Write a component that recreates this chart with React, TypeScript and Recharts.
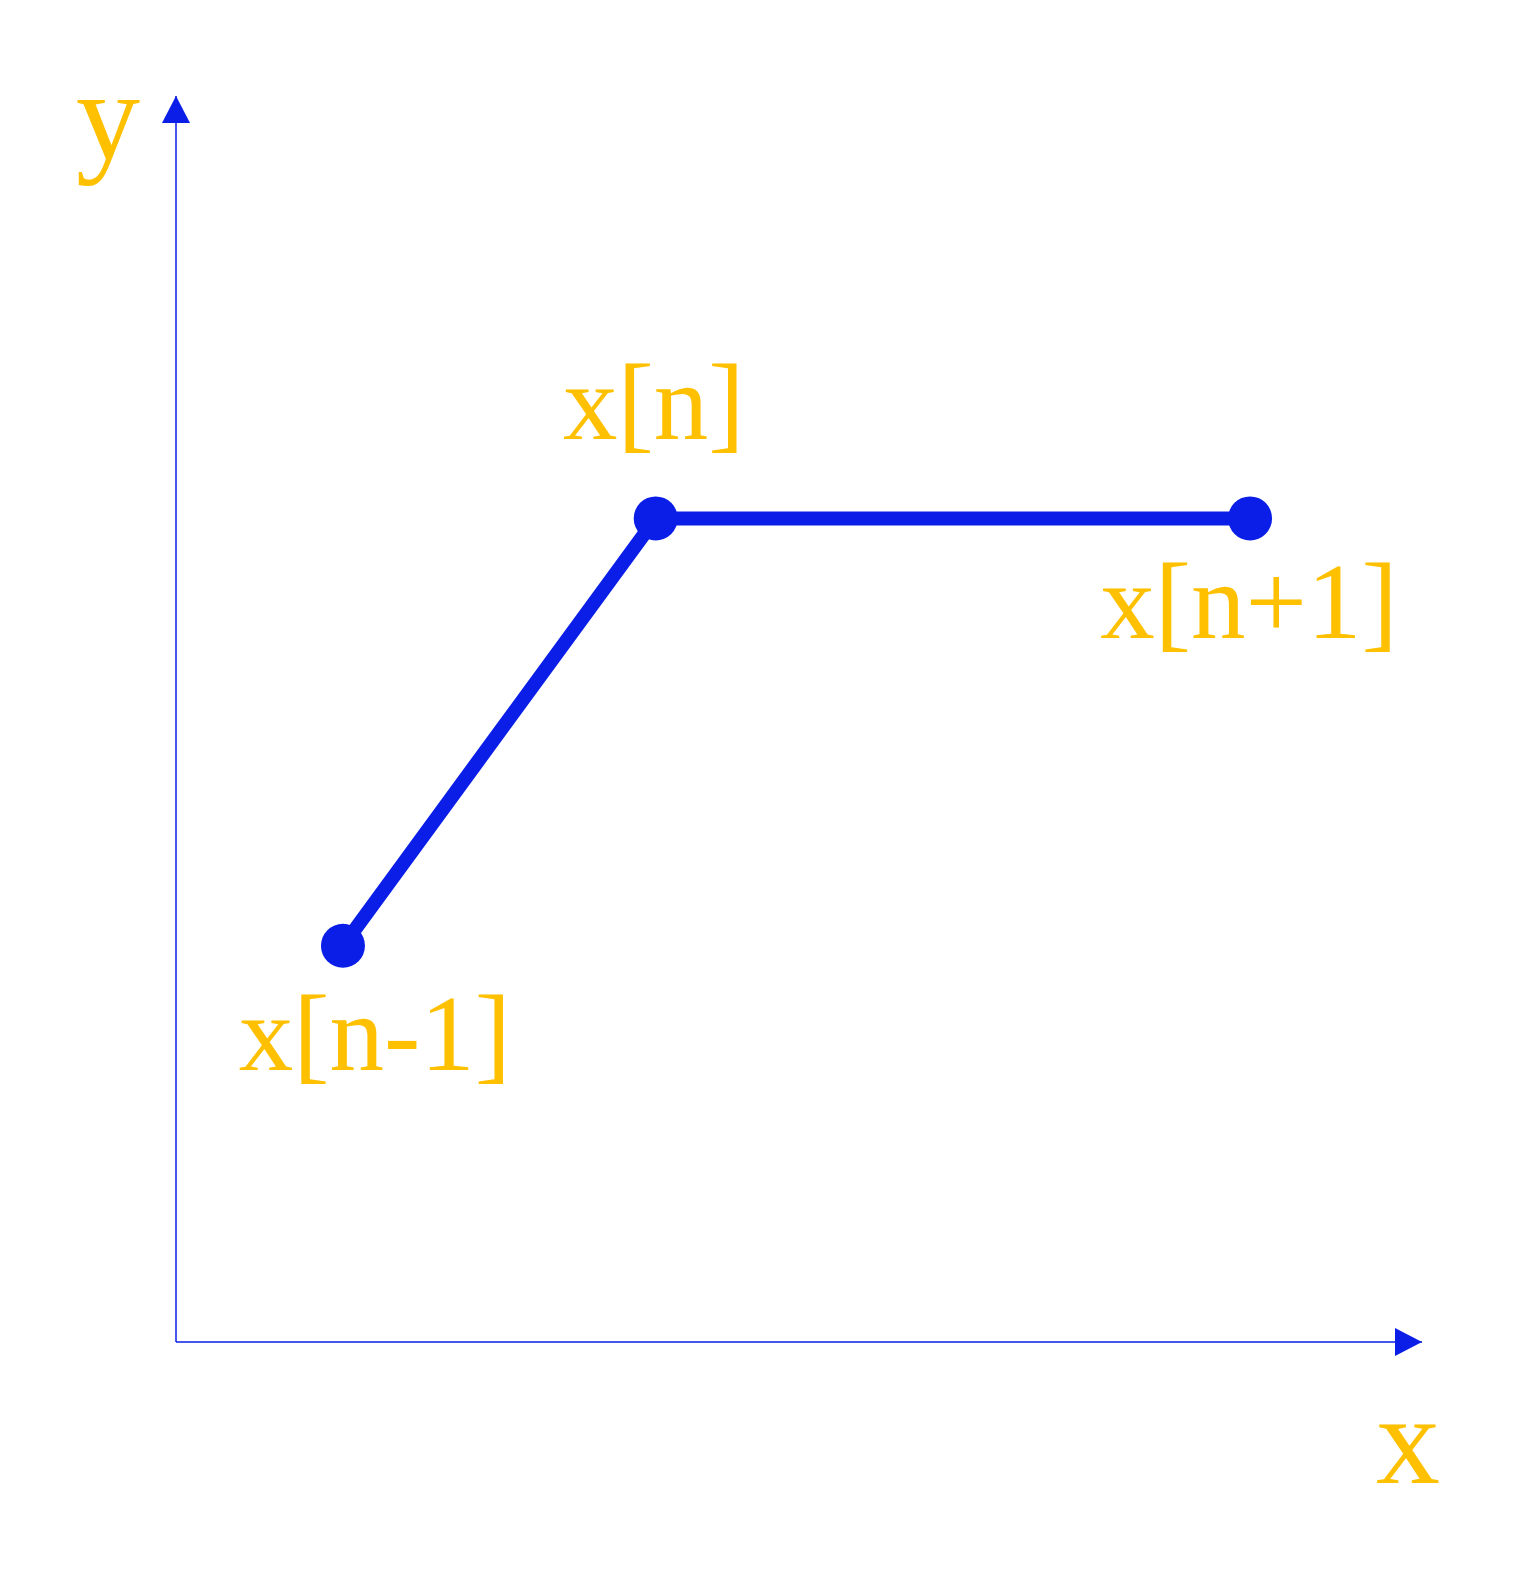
import React from 'react';
import { LineChart, Line, XAxis, YAxis, ReferenceDot, LabelList } from 'recharts';

// ---- data ----
const xValues = [13.4, 38.5, 86.2];
const yValues = [31.8, 66.1, 66.1];
const pointLabels = ['x[n-1]', 'x[n]', 'x[n+1]'];
const xDomain: [number, number] = [0, 100];
const yDomain: [number, number] = [0, 100];
const xAxisLabel = 'x';
const yAxisLabel = 'y';

const data = xValues.map((x, i) => ({ x, y: yValues[i], label: pointLabels[i] }));

// ---- style ----
const BLUE = '#0a1ee8';
const YELLOW = '#ffc000';
const FONT = '"Liberation Serif", "Times New Roman", Times, serif';

const W = 1503;
const H = 1577;
const MARGIN = { top: 88, left: 167, right: 89, bottom: 242 };

const labelOffsets = [
  { dx: 32, dy: 124 },
  { dx: -2, dy: -79 },
  { dx: -1, dy: 120 },
];

const PointLabel = (props: any) => {
  const { index, value } = props;
  const x = props.x ?? props.viewBox?.x;
  const y = props.y ?? props.viewBox?.y;
  const off = labelOffsets[index] || { dx: 0, dy: 0 };
  return (
    <text
      x={x + off.dx}
      y={y + off.dy}
      textAnchor="middle"
      fill={YELLOW}
      style={{ fontFamily: FONT, fontSize: 109 }}
    >
      {value}
    </text>
  );
};

const YLabel = (props: any) => {
  const vb = props.viewBox || {};
  const x0 = vb.x + (vb.width || 0);
  return (
    <text x={x0 - 68} y={vb.y + 63} textAnchor="middle" fill={YELLOW} style={{ fontFamily: FONT, fontSize: 128 }}>
      {yAxisLabel}
    </text>
  );
};

const XLabel = (props: any) => {
  const vb = props.viewBox || {};
  return (
    <text x={vb.x + vb.width - 14} y={vb.y + 141} textAnchor="middle" fill={YELLOW} style={{ fontFamily: FONT, fontSize: 128 }}>
      {xAxisLabel}
    </text>
  );
};

const ArrowRight = (props: any) => {
  const { cx, cy } = props;
  return <polygon points={`${cx},${cy} ${cx - 27},${cy - 14} ${cx - 27},${cy + 14}`} fill={BLUE} />;
};

const ArrowUp = (props: any) => {
  const { cx, cy } = props;
  return <polygon points={`${cx},${cy} ${cx - 14},${cy + 27} ${cx + 14},${cy + 27}`} fill={BLUE} />;
};

export default function App() {
  return (
    <div style={{ width: W, height: H, background: '#fff' }}>
      <LineChart width={W} height={H} data={data} margin={MARGIN}>
        <XAxis
          type="number"
          dataKey="x"
          domain={xDomain}
          allowDataOverflow
          tick={false}
          tickLine={false}
          height={1}
          axisLine={{ stroke: BLUE, strokeWidth: 1.5 }}
          label={<XLabel />}
        />
        <YAxis
          type="number"
          dataKey="y"
          domain={yDomain}
          allowDataOverflow
          tick={false}
          tickLine={false}
          width={1}
          axisLine={{ stroke: BLUE, strokeWidth: 1.5 }}
          label={<YLabel />}
        />
        <ReferenceDot x={xDomain[1]} y={yDomain[0]} shape={<ArrowRight />} ifOverflow="visible" />
        <ReferenceDot x={xDomain[0]} y={yDomain[1]} shape={<ArrowUp />} ifOverflow="visible" />
        <Line
          type="linear"
          dataKey="y"
          stroke={BLUE}
          strokeWidth={14}
          dot={{ r: 22, fill: BLUE, stroke: 'none' }}
          activeDot={false}
          isAnimationActive={false}
        >
          <LabelList dataKey="label" content={<PointLabel />} />
        </Line>
      </LineChart>
    </div>
  );
}
